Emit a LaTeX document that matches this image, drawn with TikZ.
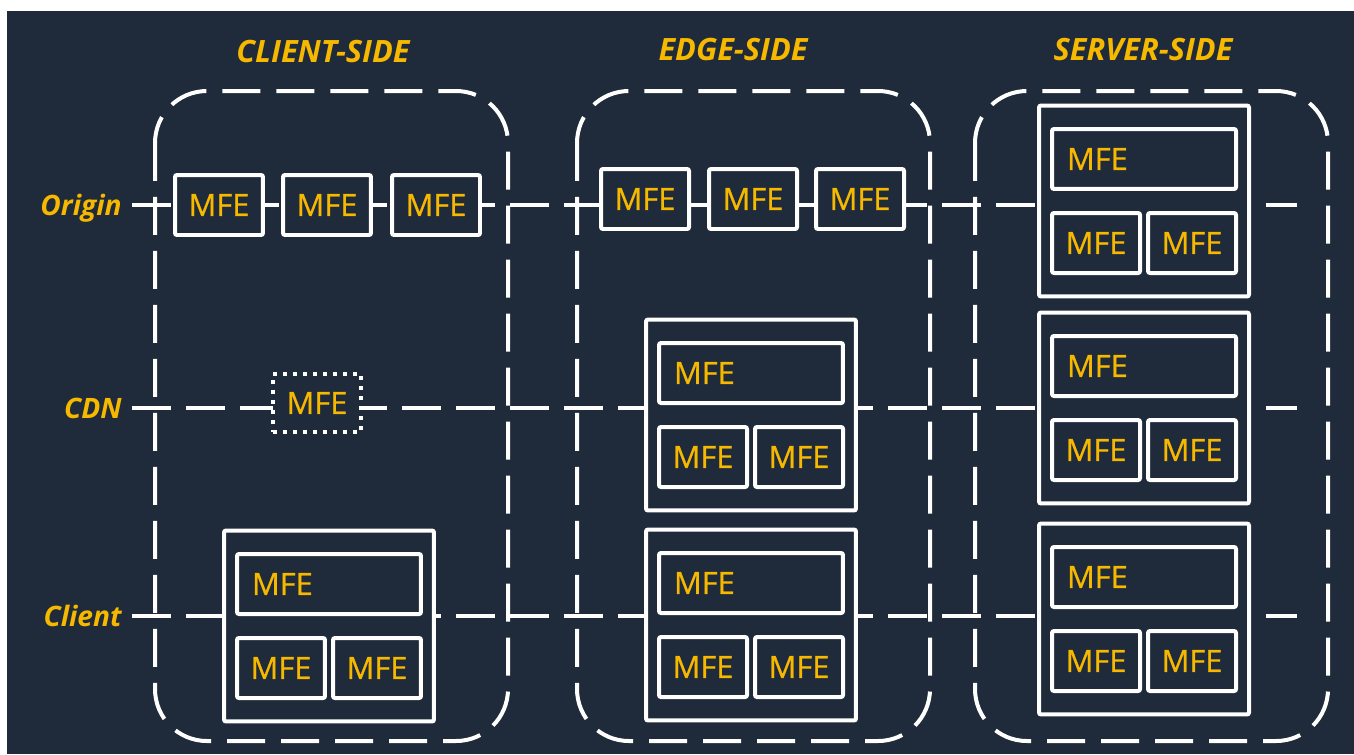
\documentclass[tikz,border=0pt]{standalone}
\usepackage{fontspec}
\setmainfont{Open Sans}
\newfontfamily\mfefont[FakeBold = 0.7]{Open Sans}
\definecolor{navy}{HTML}{1F2B3A}
\definecolor{amber}{HTML}{F7B800}

\begin{document}
\begin{tikzpicture}[x = 0.02cm, y = -0.02cm,
		wire/.style = {draw = white, line width = 0.08cm, dash pattern = on 0.78cm off 0.3cm},
		zone/.style = {draw = white, line width = 0.08cm, rounded corners = 1.04cm, dash pattern = on 0.76cm off 0.32cm},
		mfe/.style = {draw = white, fill = navy, line width = 0.08cm, rounded corners = 0.04cm, minimum width = 1.76cm, minimum height = 1.2cm, inner sep = 0pt, text = amber, font = \mfefont\fontsize{17.5}{19}\selectfont},
		widemfe/.style = {mfe, text width = 3.08cm, inner xsep = 0.3cm, align = left},
		stack/.style = {draw = white, fill = navy, line width = 0.08cm, rounded corners = 0.04cm, minimum width = 4.2cm, minimum height = 3.82cm},
		side/.style = {text = amber, font = \fontsize{17.5}{20}\selectfont\bfseries\itshape},
		tier/.style = {side, anchor = east, inner xsep = 0.2cm, text depth = 0pt, font = \fontsize{16}{19}\selectfont\bfseries\itshape}]
					\fill[white] (0, 0) rectangle (1354, 754);
					\fill[navy] (7, 11) rectangle (1354, 754);
					\useasboundingbox (0, 0) rectangle (1354, 754);
					\node[side] (client-side) at (323, 52) {CLIENT-SIDE};
					\node[side] (edge-side) at (733, 50) {EDGE-SIDE};
					\node[side] (server-side) at (1143, 50) {SERVER-SIDE};
					\node[tier] (origin) at (132, 205) {Origin};
					\node[tier] (cdn) at (132, 408) {CDN};
					\node[tier] (client) at (132, 616) {Client};
					\coordinate (origin-end) at (1297, 205);
					\coordinate (cdn-end) at (1297, 408);
					\coordinate (client-end) at (1297, 616);
					\draw[wire] (origin.east) -- (origin-end);
					\draw[wire] (cdn.east) -- (cdn-end);
					\draw[wire] (client.east) -- (client-end);
					\draw[zone] (155, 91) rectangle (508, 741);
					\draw[zone] (577, 91) rectangle (930, 741);
					\draw[zone] (975, 91) rectangle (1328, 741);
					\node[mfe] (co1) at (219, 205) {MFE};
					\node[mfe] (co2) at (327, 205) {MFE};
					\node[mfe] (co3) at (436, 205) {MFE};
					\node[mfe] (eo1) at (645, 199) {MFE};
					\node[mfe] (eo2) at (753, 199) {MFE};
					\node[mfe] (eo3) at (860, 199) {MFE};
					\node[mfe, rounded corners = 0pt, minimum height = 1.16cm, dash pattern = on 0.08cm off 0.12cm] (cdn-mfe) at (317, 403) {MFE};
					\foreach \n/\cx/\cy in {cl/329/626, em/751/415, eb/751/625, st/1144/201, sm/1144/408, sb/1144/619} {
						\node[stack] (\n) at (\cx, \cy) {};
						\node[widemfe] (\n-top) at (\cx, \cy - 42) {MFE};
						\node[mfe] (\n-left) at (\cx - 48, \cy + 42) {MFE};
						\node[mfe] (\n-right) at (\cx + 48, \cy + 42) {MFE};
					}
				\end{tikzpicture}
\end{document}
